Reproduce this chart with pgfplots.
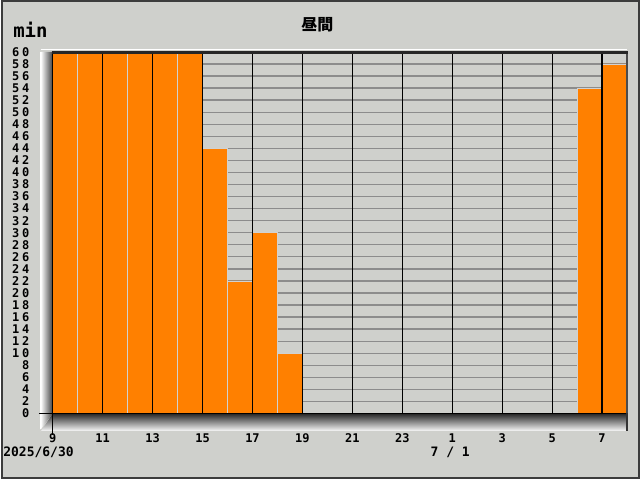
\documentclass[border=0pt]{standalone}
\usepackage{pgfplots}
\pgfplotsset{compat=1.18}
\usepackage{fontspec}
\setmainfont{DejaVu Sans}
\setmonofont{DejaVu Sans Mono}
\newfontfamily\cjk{Noto Sans CJK JP}
\definecolor{bg}{RGB}{207,208,204}
\definecolor{barorange}{RGB}{255,128,0}
\definecolor{gridgray}{RGB}{140,140,140}
\definecolor{frame}{RGB}{60,60,60}
\newcommand{\dd}[2]{#1\kern2.6pt#2}
\begin{document}
\begin{tikzpicture}[x=1pt,y=1pt]
\fill[bg] (0,0) rectangle (640,480);
\draw[frame, line width=2pt] (1,1) rectangle (639,479);
% 3D wall and floor
\shade[left color=white, right color=black!75] (40,50) -- (52,66) -- (52,428) -- (40,428) -- cycle;
\shade[top color=black!85, bottom color=white] (40,48) -- (52,66) -- (627,66) -- (627,48) -- cycle;
\fill[bg] (40,46) rectangle (628,48);
\draw[white, line width=1pt] (40,430.5) -- (627,430.5);
\begin{axis}[
  at={(52pt,66pt)}, anchor=south west, scale only axis,
  width=575pt, height=362pt,
  xmin=0, xmax=23, ymin=0, ymax=60,
  axis line style={draw=none},
  major tick length=0pt,
  xtick={0,2,...,22},
  xticklabels={9,11,13,15,17,19,21,23,1,3,5,7},
  ytick={0,2,...,60},
  yticklabels={0,2,4,6,8,\dd10,\dd12,\dd14,\dd16,\dd18,\dd20,\dd22,\dd24,\dd26,\dd28,\dd30,\dd32,\dd34,\dd36,\dd38,\dd40,\dd42,\dd44,\dd46,\dd48,\dd50,\dd52,\dd54,\dd56,\dd58,\dd60},
  tick label style={font=\ttfamily\bfseries\fontsize{12}{12}\selectfont, text=black},
  xticklabel style={anchor=north, yshift=-17pt},
  yticklabel style={anchor=east, xshift=-20pt},
  clip=false,
]
\pgfplotsinvokeforeach{2,4,6,8,10,12,14,16,18,20,22,24,26,28,30,32,34,36,38,40,42,44,46,48,50,52,54,56,58}{
  \draw[gridgray, line width=1.3pt] (axis cs:0,#1) -- (axis cs:23,#1);
}
\addplot[ybar interval, fill=barorange, draw=black!18, line width=0.8pt] coordinates {
(0,60) (1,60) (2,60) (3,60) (4,60) (5,60) (6,44) (7,22) (8,30) (9,10)
(10,0) (11,0) (12,0) (13,0) (14,0) (15,0) (16,0) (17,0) (18,0) (19,0) (20,0)
(21,54) (22,58) (23,58)};
\pgfplotsinvokeforeach{2,4,6,8,10,12,14,16,18,20,22}{
  \draw[black, line width=1.2pt] (axis cs:#1,0) -- (axis cs:#1,60);
}
\draw[black, line width=1.5pt] (axis cs:0,0) -- (axis cs:23,0);
\draw[black, line width=1.5pt] (axis cs:0,0) -- (axis cs:0,60);
\draw[black!70, line width=1.6pt] (axis cs:23,0) -- (axis cs:23,60);
\end{axis}
\draw[black!85, line width=3pt] (51,427) -- (628,427);
\draw[black, line width=1.2pt] (38,66) -- (52,66);
\draw[black, line width=1.2pt] (52,66) -- (52,44);
\draw[black!80, line width=1.5pt] (627,66) -- (627,48);
% texts
\node[font=\ttfamily\bfseries\fontsize{19}{19}\selectfont, anchor=west] at (9,450) {min};
\node[font=\cjk\bfseries\fontsize{16}{16}\selectfont] at (317,455) {昼間};
\node[font=\ttfamily\bfseries\fontsize{13}{13}\selectfont, anchor=west] at (-1,27) {2025/6/30};
\node[font=\ttfamily\bfseries\fontsize{13}{13}\selectfont] at (450,27) {7 / 1};
\end{tikzpicture}
\end{document}
